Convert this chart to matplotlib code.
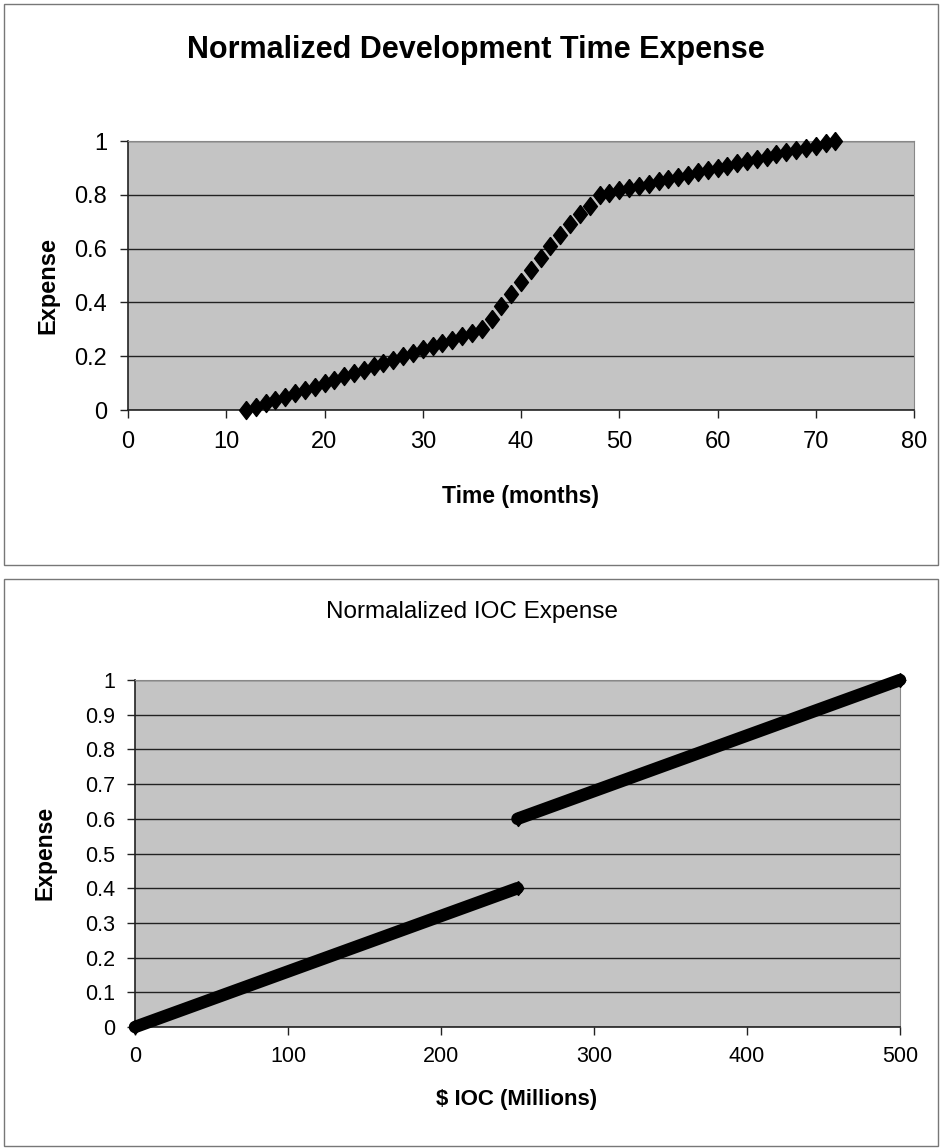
import matplotlib
matplotlib.use('Agg')
import matplotlib.pyplot as plt
from matplotlib.patches import Rectangle

# top chart: development time expense, one point per month
months = list(range(12, 73))
time_expense = [0.0, 0.012, 0.025, 0.037, 0.05, 0.062, 0.075, 0.087, 0.10, 0.112,
                0.125, 0.137, 0.15, 0.162, 0.175, 0.187, 0.20, 0.212, 0.225, 0.237,
                0.25, 0.262, 0.275, 0.287, 0.30,
                0.34, 0.385, 0.43, 0.475, 0.52, 0.565, 0.61, 0.65, 0.69, 0.73, 0.76, 0.80,
                0.808, 0.817, 0.825, 0.833, 0.842, 0.85, 0.858, 0.867, 0.875, 0.883,
                0.892, 0.90, 0.908, 0.917, 0.925, 0.933, 0.942, 0.95, 0.958, 0.967,
                0.975, 0.983, 0.992, 1.0]

# bottom chart: IOC expense, two straight runs with a jump at 250
ioc_low = [0, 250]
ioc_low_expense = [0.0, 0.4]
ioc_high = [250, 500]
ioc_high_expense = [0.6, 1.0]

top_xticks = [0, 10, 20, 30, 40, 50, 60, 70, 80]
top_yticks = [0, 0.2, 0.4, 0.6, 0.8, 1]
top_ylabels = ['0', '0.2', '0.4', '0.6', '0.8', '1']
bot_xticks = [0, 100, 200, 300, 400, 500]
bot_yticks = [0, 0.1, 0.2, 0.3, 0.4, 0.5, 0.6, 0.7, 0.8, 0.9, 1]
bot_ylabels = ['0', '0.1', '0.2', '0.3', '0.4', '0.5', '0.6', '0.7', '0.8', '0.9', '1']

narrow = ['Liberation Sans Narrow', 'Liberation Sans', 'DejaVu Sans']
arial = ['Liberation Sans', 'DejaVu Sans']
plot_bg = '#c4c4c4'
# a slightly tall diamond, like the Excel marker
diamond = [(0, 1.3), (1, 0), (0, -1.3), (-1, 0), (0, 1.3)]

fig = plt.figure(figsize=(9.4, 11.48), dpi=100)
fig.patch.set_facecolor('white')

# outer chart frames
fig.patches.append(Rectangle((4 / 940, 1 - 565 / 1148), 934 / 940, 561 / 1148,
                             transform=fig.transFigure, fill=False, edgecolor='#777777', lw=1))
fig.patches.append(Rectangle((4 / 940, 1 - 1146 / 1148), 934 / 940, 567 / 1148,
                             transform=fig.transFigure, fill=False, edgecolor='#777777', lw=1))


def style_axes(ax):
    ax.set_facecolor(plot_bg)
    ax.grid(axis='y', color='#222222', linewidth=1)
    ax.set_axisbelow(True)
    for side in ['top', 'right']:
        ax.spines[side].set_color('#888888')
    for side in ['left', 'bottom']:
        ax.spines[side].set_color('#222222')
        ax.spines[side].set_linewidth(1.2)
    ax.tick_params(direction='out', length=6, width=1, color='#222222')


# ---- top chart ----
ax1 = fig.add_axes([128 / 940, 1 - 410 / 1148, 786 / 940, 269 / 1148])
style_axes(ax1)
ax1.plot(months, time_expense, linestyle='none', marker=diamond, markersize=13,
         color='black', markeredgecolor='black', clip_on=False, zorder=3)
ax1.set_xlim(0, 80)
ax1.set_ylim(0, 1)
ax1.set_xticks(top_xticks)
ax1.set_yticks(top_yticks)
ax1.set_yticklabels(top_ylabels)
ax1.tick_params(axis='both', labelsize=17, pad=9)
for lbl in ax1.get_xticklabels() + ax1.get_yticklabels():
    lbl.set_family(arial)
fig.text(476 / 940, 1 - 50 / 1148, 'Normalized Development Time Expense', ha='center', va='center',
         fontsize=22, fontweight='bold', family=narrow)
fig.text(521 / 940, 1 - 497 / 1148, 'Time (months)', ha='center', va='center',
         fontsize=16.5, fontweight='bold', family=narrow)
fig.text(48 / 940, 1 - 285 / 1148, 'Expense', ha='center', va='center', rotation=90,
         fontsize=17, fontweight='bold', family=narrow)

# ---- bottom chart ----
ax2 = fig.add_axes([135 / 940, 1 - 1027 / 1148, 765 / 940, 347 / 1148])
style_axes(ax2)
for xs, ys in [(ioc_low, ioc_low_expense), (ioc_high, ioc_high_expense)]:
    ax2.plot(xs, ys, color='black', linewidth=9, solid_capstyle='round',
             marker=diamond, markersize=10, clip_on=False, zorder=3)
ax2.set_xlim(0, 500)
ax2.set_ylim(0, 1)
ax2.set_xticks(bot_xticks)
ax2.set_yticks(bot_yticks)
ax2.set_yticklabels(bot_ylabels)
ax2.tick_params(axis='both', labelsize=15.5, pad=8)
for lbl in ax2.get_xticklabels() + ax2.get_yticklabels():
    lbl.set_family(arial)
fig.text(472 / 940, 1 - 612 / 1148, 'Normalalized IOC Expense', ha='center', va='center',
         fontsize=17.5, family=arial)
fig.text(517 / 940, 1 - 1100 / 1148, '$ IOC (Millions)', ha='center', va='center',
         fontsize=16, fontweight='bold', family=arial)
fig.text(45 / 940, 1 - 853 / 1148, 'Expense', ha='center', va='center', rotation=90,
         fontsize=16.5, fontweight='bold', family=arial)

fig.savefig('out.png', dpi=100)
